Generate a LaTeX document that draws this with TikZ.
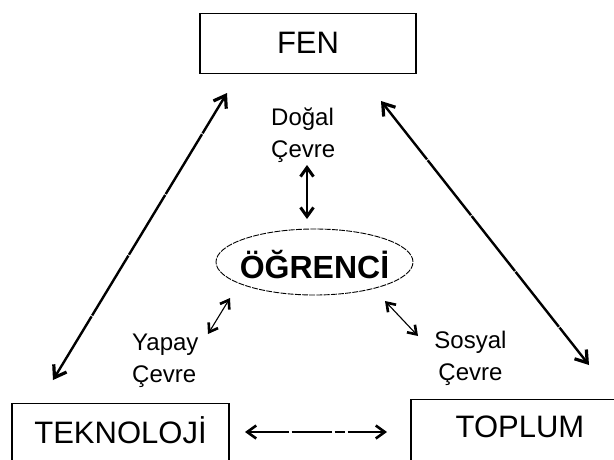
\documentclass[tikz,border=0pt]{standalone}
\usepackage{fontspec}
\setmainfont{Liberation Sans}
\usetikzlibrary{arrows.meta,shapes.geometric}
\tikzset{
  bigtip/.tip={Straight Barb[length=11pt,width=15pt,line width=3.2pt]},
  midtip/.tip={Straight Barb[length=9pt,width=13pt,line width=3pt]},
  bottip/.tip={Straight Barb[length=9pt,width=13pt,line width=2.6pt]},
  smalltip/.tip={Straight Barb[length=8pt,width=11pt,line width=2.6pt]}
}
\begin{document}
\begin{tikzpicture}[x=1pt,y=-1pt,
  box/.style={draw, line width=1.3pt, rectangle, inner sep=0pt,
    minimum width=217pt, anchor=north, font=\fontsize{31}{31}\selectfont},
  lbl/.style={font=\fontsize{24}{32}\selectfont, inner sep=0pt},
  longarrow/.style={line width=2.4pt, {bigtip}-{bigtip}, dash pattern=on 70pt off 1pt},
  midarrow/.style={line width=2.4pt, {midtip}-{midtip}},
  smallarrow/.style={line width=1.1pt, {smalltip}-{smalltip}},
  baseline arrow/.style={line width=1.7pt, {bottip}-{bottip},
    dash pattern=on 40pt off 3pt on 40pt off 3pt on 10pt off 3pt}
]
\useasboundingbox (0,0) rectangle (614,459);
\clip (0,0) rectangle (614,459);
\fill[white] (0,0) rectangle (614,459);

% boxes
\node[box, minimum width=216pt, text height=40pt, text depth=20pt] (fen) at (308,13) {FEN};
\node[box, text height=40pt, text depth=30pt] (tek) at (120.5,403) {TEKNOLOJİ};
\node[box, minimum width=218pt, text height=38pt, text depth=32pt] (top) at (520,399) {TOPLUM};

% student
\node[draw, ellipse, line width=0.9pt, dash pattern=on 6pt off 1.2pt,
  inner xsep=-8pt, inner ysep=0pt, text height=32pt, text depth=0pt,
  minimum width=197pt, minimum height=66pt,
  font=\bfseries\fontsize{32}{32}\selectfont] (ogr) at (314.5,262) {ÖĞRENCİ};

% labels (base anchor = baseline of the last line)
\node[lbl, align=left, anchor=base west] (dogal) at (271,157) {Doğal\\Çevre};
\node[lbl, align=left, anchor=base west] (yapay) at (132,382) {Yapay\\Çevre};
\node[lbl, align=center, anchor=base] (sosyal) at (470.5,380) {Sosyal\\Çevre};

% arrow ends
\coordinate (l1) at (53,380);
\coordinate (l2) at (227,93);
\coordinate (r1) at (381,101);
\coordinate (r2) at (589,365);
\coordinate (d1) at (307,165);
\coordinate (d2) at (307,219);
\coordinate (y1) at (208,334);
\coordinate (y2) at (230,298);
\coordinate (s1) at (385,301);
\coordinate (s2) at (418,336);
\coordinate (b1) at (245,432);
\coordinate (b2) at (387,432);

\draw[longarrow] (l1) -- (l2);
\draw[longarrow] (r1) -- (r2);
\draw[midarrow] (d1) -- (d2);
\draw[smallarrow] (y1) -- (y2);
\draw[smallarrow] (s1) -- (s2);
\draw[baseline arrow] (b1) -- (b2);
\end{tikzpicture}
\end{document}
